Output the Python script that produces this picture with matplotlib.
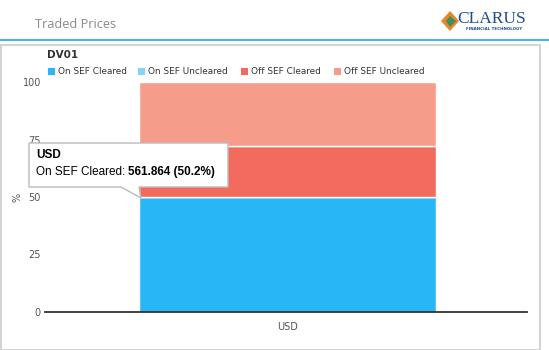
import matplotlib
matplotlib.use("Agg")
import matplotlib.pyplot as plt
from matplotlib.patches import Rectangle, Polygon

# data
currencies = ["USD"]
series_names = ["On SEF Cleared", "On SEF Uncleared", "Off SEF Cleared", "Off SEF Uncleared"]
series_pct = [50.2, 0.0, 22.0, 27.8]
series_colors = ["#29b6f6", "#81d4fa", "#f26b5e", "#f59c8a"]
usd_on_sef_cleared_dv01 = 561.864

W, H = 549, 350
fig = plt.figure(figsize=(W / 100, H / 100), dpi=100)


def fx(px):
    return px / W


def fy(py):
    return 1 - py / H


# header and panel
fig.text(fx(35), fy(25), "Traded Prices", fontsize=9.2, color="#8a8a8a",
         family="Open Sans", va="center", ha="left")
fig.add_artist(plt.Line2D([0, 1], [fy(40), fy(40)], color="#2bb3e3", lw=1.3))
fig.add_artist(Rectangle((fx(1), 0), fx(540) - fx(1), fy(45), transform=fig.transFigure,
                         facecolor="white", edgecolor="#d4d4d4", lw=1.5, zorder=0))

# logo
fig.add_artist(Polygon([[fx(441), fy(21)], [fx(450), fy(11)], [fx(459), fy(21)], [fx(450), fy(31)]],
                       closed=True, transform=fig.transFigure, facecolor="#e8862a", edgecolor="none"))
fig.add_artist(Polygon([[fx(446), fy(21)], [fx(450), fy(16)], [fx(456), fy(21)], [fx(450), fy(27)]],
                       closed=True, transform=fig.transFigure, facecolor="#3f8f5a", edgecolor="none"))
fig.text(fx(457), fy(19), "CLARUS", fontsize=12.5, color="#1f4e8c", family="Liberation Serif",
         va="center", ha="left")
fig.text(fx(466), fy(29.5), "FINANCIAL TECHNOLOGY", fontsize=2.9, color="#1f4e8c",
         fontweight="bold", va="center", ha="left")

# axes
ax = fig.add_axes([fx(45), fy(312), fx(527) - fx(45), fy(82) - fy(312)])
bottom = 0
for name, val, col in zip(series_names, series_pct, series_colors):
    ax.bar(currencies, [val], bottom=bottom, width=0.618, color=col,
           edgecolor="white", linewidth=1, label=name, zorder=2)
    bottom += val
ax.set_xlim(-0.503, 0.497)
ax.set_ylim(0, 100)
ax.set_yticks([0, 25, 50, 75, 100])
for s in ["top", "right", "left"]:
    ax.spines[s].set_visible(False)
ax.spines["bottom"].set_color("#333333")
ax.spines["bottom"].set_linewidth(1.3)
ax.tick_params(axis="y", length=0, labelsize=7, labelcolor="#555555", pad=3)
ax.tick_params(axis="x", length=0, labelsize=7, labelcolor="#555555", pad=7)
ax.set_ylabel("%", fontsize=7, color="#555555")
ax.yaxis.set_label_coords((fx(22) - fx(45)) / (fx(527) - fx(45)), 0.5)

# legend
fig.text(fx(47), fy(55), "DV01", fontsize=7.5, fontweight="bold", color="#333333", va="center")
leg_x = [48, 138, 241, 334]
for name, col, x in zip(series_names, series_colors, leg_x):
    fig.add_artist(Rectangle((fx(x), fy(75)), fx(7), fy(68) - fy(75), transform=fig.transFigure,
                             facecolor=col, edgecolor="none"))
    fig.text(fx(x + 10), fy(71.5), name, fontsize=6.4, color="#333333", va="center")

# tooltip
fig.add_artist(Polygon([[fx(29), fy(143)], [fx(228), fy(143)], [fx(228), fy(187)],
                        [fx(139), fy(187)], [fx(141), fy(198)], [fx(121), fy(187)],
                        [fx(29), fy(187)]], closed=True, transform=fig.transFigure,
                       facecolor="white", edgecolor="#bbbbbb", lw=1, zorder=5))
fig.text(fx(36), fy(155), currencies[0], fontsize=8.5, fontweight="bold",
         family="Liberation Sans", color="black", va="center", zorder=6)
t1 = fig.text(fx(36), fy(172), "On SEF Cleared: ", fontsize=8.5,
              family="Liberation Sans", color="black", va="center", zorder=6)
fig.canvas.draw()
bb = t1.get_window_extent()
fig.text(bb.x1 / W, fy(172),
         f"{usd_on_sef_cleared_dv01:.3f} ({series_pct[0]:.1f}%)", fontsize=8.5, fontweight="bold",
         family="Liberation Sans", color="black", va="center", zorder=6)

fig.savefig("out.png", dpi=100)
